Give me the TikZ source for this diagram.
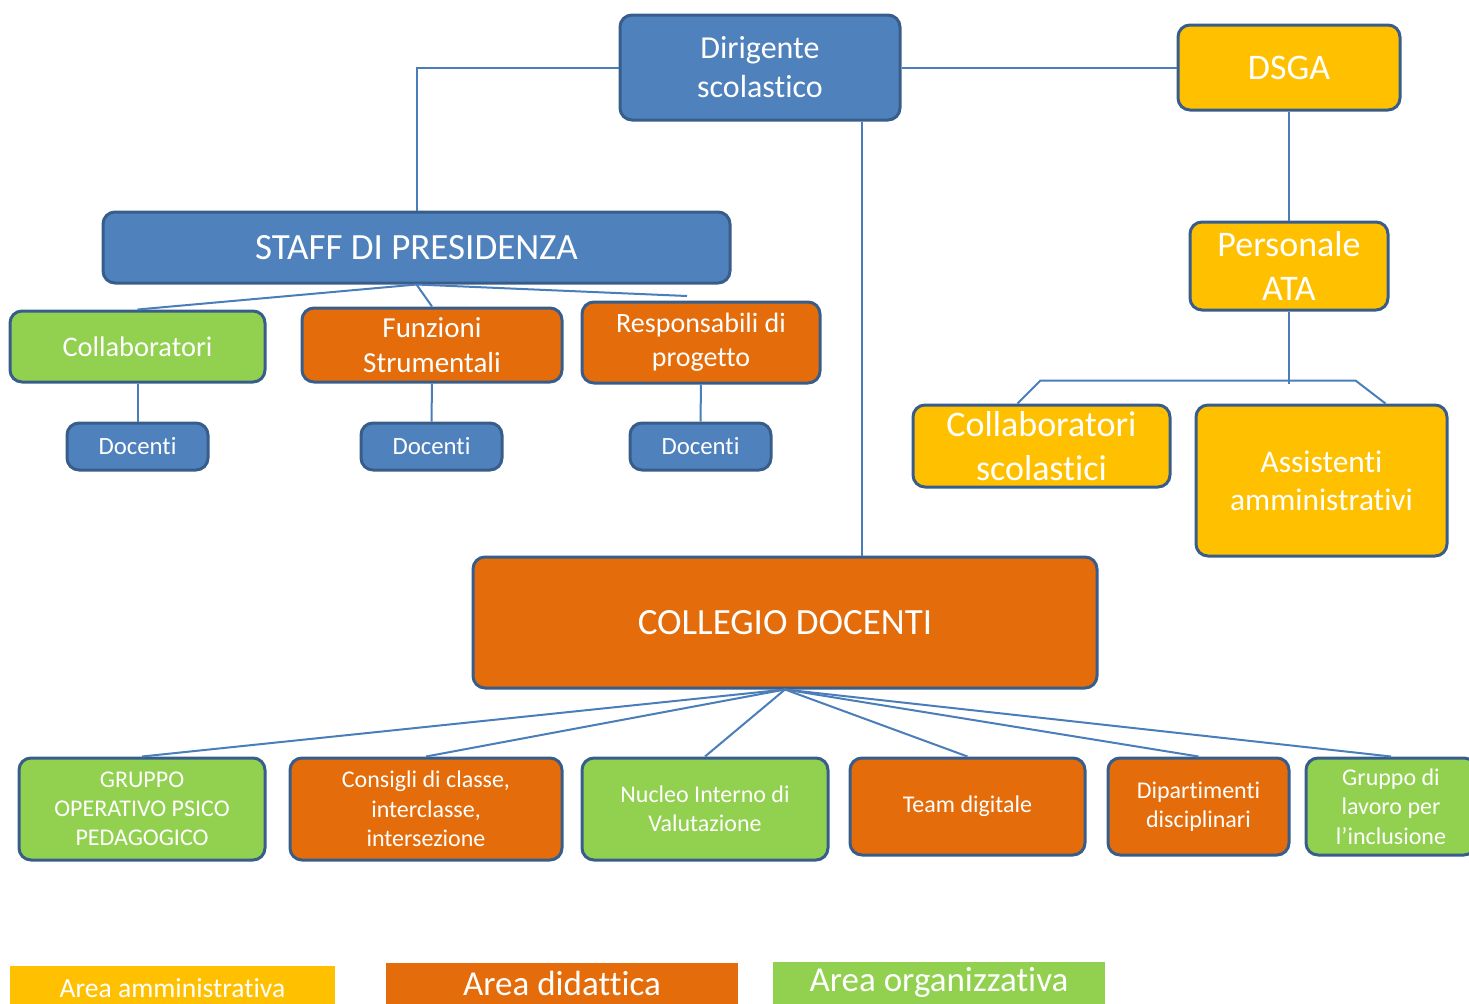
\documentclass[tikz,border=0pt]{standalone}
\usepackage{fontspec}
\setmainfont{Carlito}[Ligatures={NoCommon}]
\usetikzlibrary{calc}

\definecolor{areablue}{HTML}{4F81BD}
\definecolor{areaorange}{HTML}{E46C0A}
\definecolor{areagreen}{HTML}{92D050}
\definecolor{areayellow}{HTML}{FFC000}
\definecolor{boxline}{HTML}{385D8A}
\definecolor{linkblue}{HTML}{4A7EBB}

\newcommand{\fsz}[1]{\fontsize{#1}{1.22\dimexpr#1pt\relax}\selectfont}

\begin{document}
\begin{tikzpicture}[x=0.5pt, y=-0.5pt,
	box/.style={draw=boxline, line width=1.5pt, rounded corners=6pt, text=white, align=center, inner sep=0pt},
	link/.style={draw=linkblue, line width=1pt},
	legend/.style={text=white, align=center, inner sep=0pt}]
	
	\useasboundingbox (0,0) rectangle (1469,1003);
	\clip (0,0) rectangle (1469,1003);
	
	% vertice
	\node[box, fill=areablue, minimum width=140pt, minimum height=52.5pt, font=\fsz{16}] (dir) at (760,67.5) {Dirigente\\scolastico};
	\node[box, fill=areayellow, minimum width=111pt, minimum height=42.5pt, font=\fsz{18}] (dsga) at (1289,67.5) {DSGA};
	
	% staff
	\node[box, fill=areablue, minimum width=313.5pt, minimum height=35.5pt, font=\fsz{18.5}] (staff) at (416.5,247.5) {STAFF DI PRESIDENZA};
	\node[box, fill=areagreen, minimum width=127.5pt, minimum height=35.5pt, font=\fsz{14.2}] (coll) at (137.5,346.5) {Collaboratori};
	\node[box, fill=areaorange, minimum width=130pt, minimum height=37pt, font=\fsz{14.5}] (funz) at (432,345) {Funzioni\\Strumentali};
	\node[box, fill=areaorange, minimum width=119pt, minimum height=40.5pt, font=\fsz{14}] (resp) at (701,342.5) {Responsabili di\\progetto};
	
	\foreach \n/\x in {doca/137.5, docb/431.5, docc/700.5} {
		\node[box, fill=areablue, minimum width=70.5pt, minimum height=23.5pt, font=\fsz{12.4}] (\n) at (\x,446.5) {Docenti};
	}
	
	% ATA
	\node[box, fill=areayellow, minimum width=99pt, minimum height=44pt, font=\fsz{18}] (ata) at (1289,266) {Personale\\ATA};
	\node[box, fill=areayellow, minimum width=128.5pt, minimum height=41pt, font=\fsz{18}] (colsc) at (1041.5,446) {Collaboratori\\scolastici};
	\node[box, fill=areayellow, minimum width=125.5pt, minimum height=75.5pt, font=\fsz{15.7}] (assist) at (1321.5,480.5) {Assistenti\\amministrativi};
	
	% collegio
	\node[box, fill=areaorange, minimum width=312pt, minimum height=65.5pt, font=\fsz{18.5}] (collegio) at (785,622.5) {COLLEGIO DOCENTI};
	
	\node[box, fill=areagreen, minimum width=123pt, minimum height=51pt, font=\fsz{12}] (gop) at (142,809) {GRUPPO\\OPERATIVO PSICO\\PEDAGOGICO};
	\node[box, fill=areaorange, minimum width=136pt, minimum height=51pt, font=\fsz{12}] (cons) at (426,809) {Consigli di classe,\\interclasse,\\intersezione};
	\node[box, fill=areagreen, minimum width=123pt, minimum height=51pt, font=\fsz{12}] (niv) at (705,809) {Nucleo Interno di\\Valutazione};
	\node[box, fill=areaorange, minimum width=117.5pt, minimum height=48.5pt, font=\fsz{12}] (team) at (967.5,806.5) {Team digitale};
	\node[box, fill=areaorange, minimum width=90.5pt, minimum height=48.5pt, font=\fsz{12}] (dip) at (1198.5,806.5) {Dipartimenti\\disciplinari};
	\node[box, fill=areagreen, minimum width=85pt, minimum height=48.5pt, font=\fsz{12}] (glo) at (1391,806.5) {Gruppo di\\lavoro per\\l’inclusione};
	
	% collegamenti
	\draw[link] (dir.west) -| (staff.north);
	\draw[link] (dir.east) -- (dsga.west);
	\draw[link] ([xshift=51pt]dir.south) -- ([xshift=51pt]dir.south |- collegio.north);
	\draw[link] (dsga.south) -- (ata.north);
	
	\coordinate (respend) at (687,296);
	\draw[link] (staff.south) -- (coll.north);
	\draw[link] (staff.south) -- (funz.north);
	\draw[link] (staff.south) -- (respend);
	\draw[link] (coll.south) -- (doca.north);
	\draw[link] (funz.south) -- (docb.north);
	\draw[link] (resp.south) -- (docc.north);
	
	\draw[link] (ata.south) -- ++(0,72);
	\draw[link] ([xshift=-12pt]colsc.north) -- ++(23,-23) -- ++(315,0) -- ([xshift=32pt]assist.north);
	
	\foreach \n in {gop, cons, niv, team, dip, glo} {
		\draw[link] (collegio.south) -- (\n.north);
	}
	
	% legenda
	\fill[areayellow] (10,966) rectangle (335,1010);
	\fill[areaorange] (386,963) rectangle (738,1010);
	\fill[areagreen] (773,962) rectangle (1105,1010);
	\node[legend, font=\fsz{13.8}] (lamm) at (172.5,988) {Area amministrativa};
	\node[legend, font=\fsz{17.5}] (ldid) at (562,983) {Area didattica};
	\node[legend, font=\fsz{17.5}] (lorg) at (939,982) {Area organizzativa};
	
\end{tikzpicture}
\end{document}
